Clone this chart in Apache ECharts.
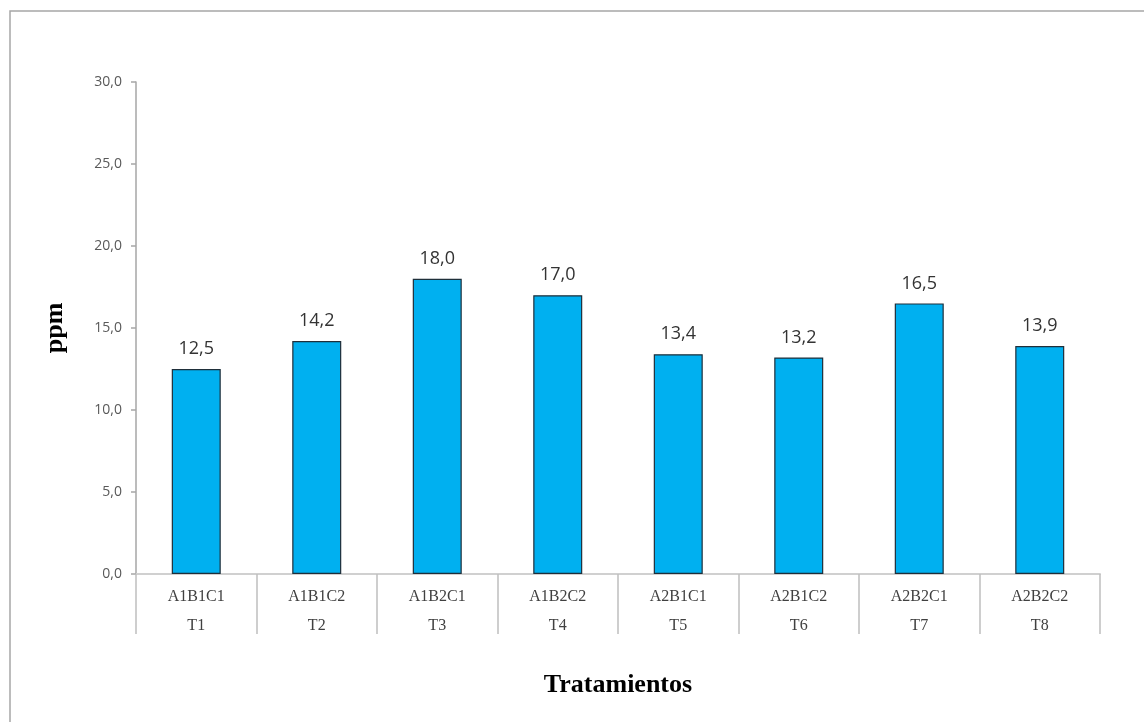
<!DOCTYPE html>
<html>
<head>
<meta charset="utf-8">
<style>
  html, body { margin: 0; padding: 0; background: #ffffff; }
  #chart { width: 1144px; height: 722px; }
</style>
<script src="https://cdn.jsdelivr.net/npm/echarts@6/dist/echarts.min.js"></script>
</head>
<body>
<div id="chart"></div>
<script>
// Treatment combinations and their codes
const combos = ['A1B1C1', 'A1B1C2', 'A1B2C1', 'A1B2C2', 'A2B1C1', 'A2B1C2', 'A2B2C1', 'A2B2C2'];
const codes = ['T1', 'T2', 'T3', 'T4', 'T5', 'T6', 'T7', 'T8'];
// Concentration per treatment (ppm)
const ppm = [12.5, 14.2, 18.0, 17.0, 13.4, 13.2, 16.5, 13.9];
// Value axis range
const yMin = 0, yMax = 30, yStep = 5;

const comma = v => v.toFixed(1).replace('.', ',');
const categories = combos.map((c, i) => c + '\n' + codes[i]);

const chart = echarts.init(document.getElementById('chart'), null, { renderer: 'canvas' });
chart.setOption({
  animation: false,
  backgroundColor: '#ffffff',
  graphic: [{
    type: 'rect',
    shape: { x: 10, y: 11, width: 1200, height: 800 },
    style: { fill: 'none', stroke: '#a6a6a6', lineWidth: 1.5 },
    silent: true
  }],
  grid: { left: 136, right: 44, top: 82, bottom: 148, containLabel: false },
  xAxis: {
    type: 'category',
    data: categories,
    name: 'Tratamientos',
    nameLocation: 'middle',
    nameGap: 98,
    nameTextStyle: { fontFamily: 'Liberation Serif', fontWeight: 'bold', fontSize: 26, color: '#000000' },
    axisLine: { show: true, lineStyle: { color: '#d0d0d0', width: 2 } },
    axisTick: { show: true, alignWithLabel: false, inside: false, length: 60, lineStyle: { color: '#bfbfbf', width: 1.5 } },
    axisLabel: {
      margin: 8,
      fontFamily: 'Liberation Serif',
      fontSize: 16,
      color: '#404040',
      lineHeight: 29
    },
    splitLine: { show: false }
  },
  yAxis: {
    type: 'value',
    min: yMin,
    max: yMax,
    interval: yStep,
    name: 'ppm',
    nameLocation: 'middle',
    nameGap: 68,
    nameRotate: 90,
    nameTextStyle: { fontFamily: 'Liberation Serif', fontWeight: 'bold', fontSize: 26, color: '#000000' },
    axisLine: { show: true, lineStyle: { color: '#a6a6a6', width: 1.5 } },
    axisTick: { show: true, length: 5, lineStyle: { color: '#a6a6a6', width: 1.5 } },
    axisLabel: {
      margin: 14,
      fontFamily: 'Open Sans',
      fontSize: 14,
      color: '#595959',
      formatter: v => comma(v)
    },
    splitLine: { show: false }
  },
  series: [{
    type: 'bar',
    data: ppm,
    barWidth: 49,
    itemStyle: { color: '#00b0f0', borderColor: '#1f2f3a', borderWidth: 1.2 },
    label: {
      show: true,
      position: 'top',
      distance: 11,
      fontFamily: 'Open Sans',
      fontSize: 18,
      color: '#333333',
      formatter: p => comma(p.value)
    }
  }]
});
</script>
</body>
</html>
